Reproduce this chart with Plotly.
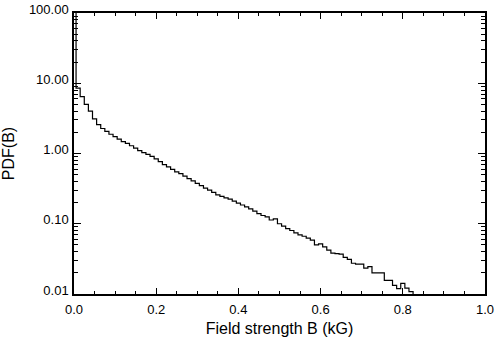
import plotly.graph_objects as go

# bin centres (kG) and PDF values
field_b = [0.00, 0.01, 0.02, 0.03, 0.04, 0.05, 0.06, 0.07, 0.08, 0.09,
           0.10, 0.11, 0.12, 0.13, 0.14, 0.15, 0.16, 0.17, 0.18, 0.19,
           0.20, 0.21, 0.22, 0.23, 0.24, 0.25, 0.26, 0.27, 0.28, 0.29,
           0.30, 0.31, 0.32, 0.33, 0.34, 0.35, 0.36, 0.37, 0.38, 0.39,
           0.40, 0.41, 0.42, 0.43, 0.44, 0.45, 0.46, 0.47, 0.48, 0.49,
           0.50, 0.51, 0.52, 0.53, 0.54, 0.55, 0.56, 0.57, 0.58, 0.59,
           0.60, 0.61, 0.62, 0.63, 0.64, 0.65, 0.66, 0.67, 0.68, 0.69,
           0.70, 0.71, 0.72, 0.73, 0.74, 0.75, 0.76, 0.77, 0.78, 0.79,
           0.80, 0.81, 0.82, 0.83]
pdf_b = [500.0, 8.54, 6.43, 5.00, 4.01, 3.11, 2.58, 2.27, 2.07, 1.88,
         1.74, 1.60, 1.48, 1.39, 1.29, 1.19, 1.10, 1.03, 0.969, 0.910,
         0.841, 0.765, 0.696, 0.643, 0.594, 0.549, 0.516, 0.477, 0.440, 0.407,
         0.376, 0.348, 0.321, 0.302, 0.279, 0.258, 0.246, 0.234, 0.224, 0.210,
         0.197, 0.185, 0.174, 0.163, 0.151, 0.139, 0.131, 0.125, 0.113, 0.117,
         0.100, 0.0924, 0.0855, 0.0802, 0.0741, 0.0696, 0.0664, 0.0623, 0.0585, 0.0500,
         0.0516, 0.0469, 0.0420, 0.0382, 0.0376, 0.0370, 0.0332, 0.0311, 0.0274, 0.0266,
         0.0266, 0.0234, 0.0246, 0.0200, 0.0200, 0.0200, 0.0156, 0.0156, 0.0133, 0.0119,
         0.0142, 0.0121, 0.0108, 0.0050]

x_ticks = [0.0, 0.2, 0.4, 0.6, 0.8, 1.0]
y_ticks = [0.01, 0.1, 1, 10, 100]

fig = go.Figure()
fig.add_trace(go.Scatter(
    x=field_b, y=pdf_b, mode='lines',
    line=dict(color='black', width=1.2, shape='hvh'),
    showlegend=False,
))

font = dict(family='Liberation Sans, Arial, sans-serif', size=13, color='black')

fig.update_layout(
    width=496, height=343,
    margin=dict(l=73, r=10, t=2, b=49),
    paper_bgcolor='white', plot_bgcolor='white',
    font=font,
    xaxis=dict(
        range=[0, 1], tickvals=x_ticks, tickformat='.1f',
        ticks='inside', ticklen=6, tickwidth=1, tickcolor='black',
        minor=dict(dtick=0.05, ticks='inside', ticklen=3, tickcolor='black'),
        showline=True, linecolor='black', linewidth=1.5, mirror='allticks',
        showgrid=False, zeroline=False,
        title=dict(text='Field strength B (kG)', standoff=6),
        ticklabelstandoff=3, ticklabeloverflow='allow',
    ),
    yaxis=dict(
        type='log', range=[-2, 2], tickvals=y_ticks, tickformat='.2f',
        ticks='inside', ticklen=7, tickwidth=1, tickcolor='black',
        minor=dict(dtick='D1', ticks='inside', ticklen=4, tickcolor='black'),
        showline=True, linecolor='black', linewidth=1.5, mirror='allticks',
        showgrid=False, zeroline=False,
        title=dict(text='PDF(B)', standoff=16),
        ticklabelstandoff=1, ticklabelshift=-4, ticklabeloverflow='allow',
    ),
)

# drop the page's default body margin so the figure sits at the window corner
fig.write_html("out.html", config={'displayModeBar': False},
               post_script="document.body.style.margin='0';")
